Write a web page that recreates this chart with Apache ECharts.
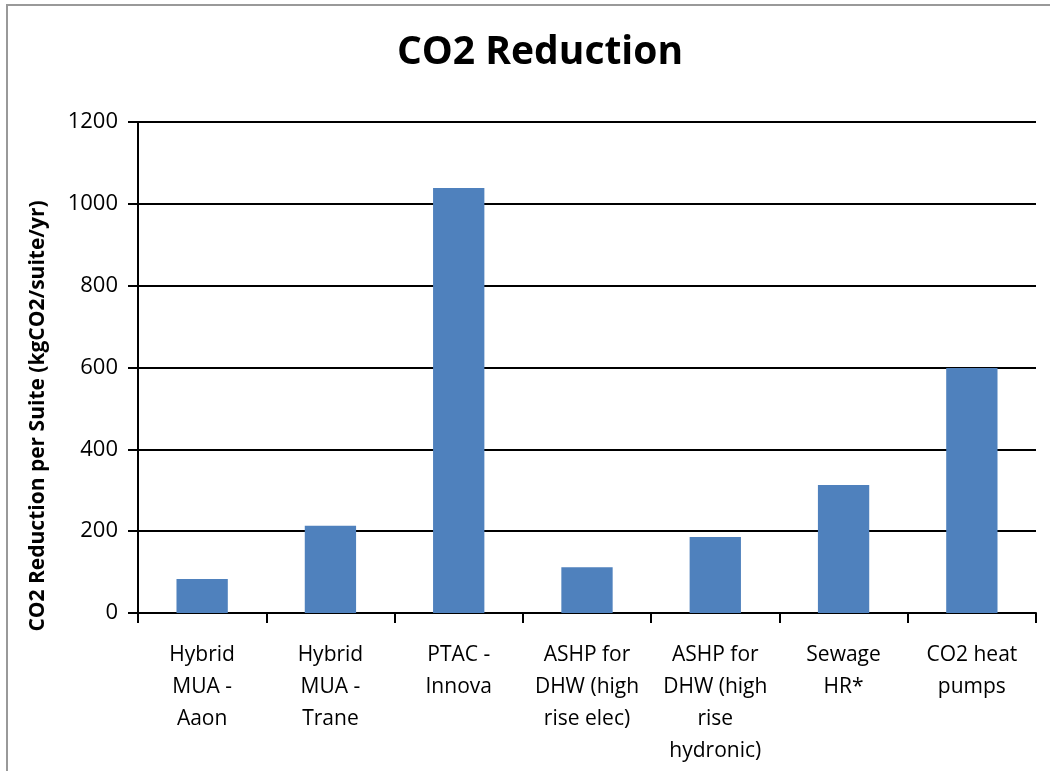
<!DOCTYPE html>
<html>
<head>
<meta charset="utf-8">
<title>CO2 Reduction</title>
<script src="https://cdn.jsdelivr.net/npm/echarts@6/dist/echarts.min.js"></script>
<style>
  html, body { margin: 0; padding: 0; background: #fff; }
  #chart { width: 1050px; height: 771px; }
</style>
</head>
<body>
<div id="chart"></div>
<script>
// Measures compared, with their yearly CO2 savings per suite
const categories = [
  'Hybrid\nMUA -\nAaon',
  'Hybrid\nMUA -\nTrane',
  'PTAC -\nInnova',
  'ASHP for\nDHW (high\nrise elec)',
  'ASHP for\nDHW (high\nrise\nhydronic)',
  'Sewage\nHR*',
  'CO2 heat\npumps'
];
const reductionValues = [83, 213, 1039, 112, 186, 313, 599];
const yTicks = [0, 200, 400, 600, 800, 1000, 1200];

const baseFont = "'Open Sans', sans-serif";
const chart = echarts.init(document.getElementById('chart'));

chart.setOption({
  animation: false,
  backgroundColor: '#ffffff',
  title: {
    text: 'CO2 Reduction',
    left: 535,
    top: 28,
    textAlign: 'center',
    textStyle: { fontFamily: baseFont, fontWeight: 'bold', fontSize: 39, color: '#000' }
  },
  graphic: [
    {
      type: 'rect',
      shape: { x: 7, y: 5, width: 1100, height: 850 },
      style: { fill: null, stroke: '#999999', lineWidth: 2 },
      silent: true
    },
    {
      type: 'text',
      x: 38,
      y: 416,
      rotation: Math.PI / 2,
      style: {
        text: 'CO2 Reduction per Suite (kgCO2/suite/yr)',
        fontFamily: baseFont,
        fontWeight: 'bold',
        fontSize: 21,
        fill: '#000',
        align: 'center',
        verticalAlign: 'middle'
      }
    }
  ],
  grid: { left: 138, right: 14, top: 122, bottom: 158 },
  xAxis: {
    type: 'category',
    data: categories,
    axisLine: { lineStyle: { color: '#000', width: 2 } },
    axisTick: { show: true, length: 10, interval: 0, lineStyle: { color: '#000', width: 2 } },
    axisLabel: {
      interval: 0,
      margin: 26,
      color: '#000',
      fontFamily: baseFont,
      fontSize: 21,
      lineHeight: 32
    }
  },
  yAxis: {
    type: 'value',
    min: yTicks[0],
    max: yTicks[yTicks.length - 1],
    interval: 200,
    axisLine: { show: true, lineStyle: { color: '#000', width: 2 } },
    axisTick: { show: true, length: 10, lineStyle: { color: '#000', width: 2 } },
    splitLine: { show: true, lineStyle: { color: '#000', width: 2 } },
    axisLabel: {
      margin: 20,
      color: '#000',
      fontFamily: baseFont,
      fontSize: 22,
      formatter: (v) => String(v)
    }
  },
  series: [{
    type: 'bar',
    data: reductionValues,
    barWidth: '40%',
    itemStyle: { color: '#4F81BD' }
  }]
});
</script>
</body>
</html>
